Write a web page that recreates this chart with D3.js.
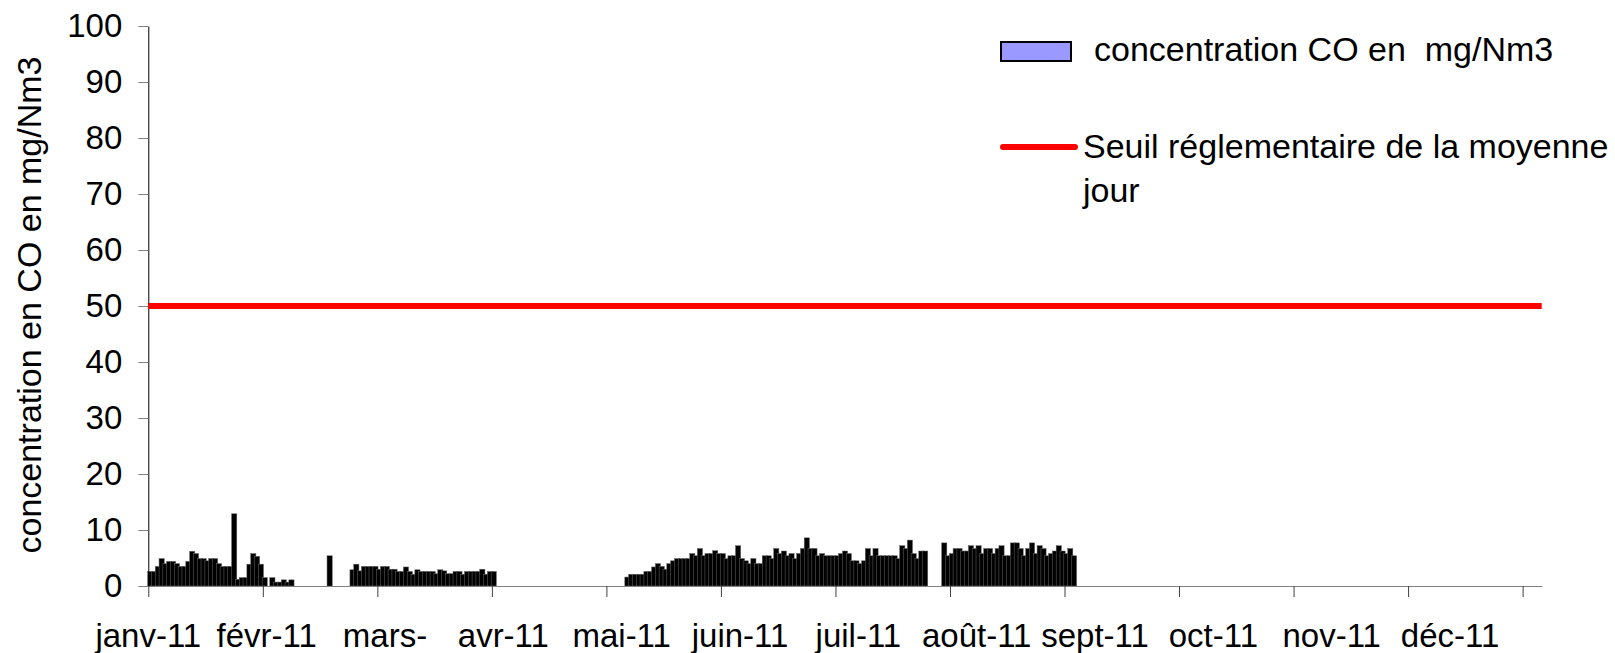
<!DOCTYPE html>
<html><head><meta charset="utf-8">
<script src="https://cdn.jsdelivr.net/npm/d3@7"></script>
<style>
html,body{margin:0;padding:0;background:#fff;}
svg{display:block;font-family:"Liberation Sans",Arial,sans-serif;}
</style></head><body>
<svg id="chart" width="1615" height="653"></svg>
<script>
// ---- data ----
const yearStart = "2011-01-01";
const yearEnd = "2012-01-01";
const seriesName = "concentration CO en  mg/Nm3";
const thresholdLabel = ["Seuil réglementaire de la moyenne", "jour"];
const thresholdValue = 50;
const yTicks = [0, 10, 20, 30, 40, 50, 60, 70, 80, 90, 100];
const monthLabels = ["janv-11", "févr-11", "mars-", "avr-11", "mai-11", "juin-11",
                     "juil-11", "août-11", "sept-11", "oct-11", "nov-11", "déc-11"];
const tickEveryDays = 30;
const labelEveryDays = 31;

// daily values, in runs of consecutive days
const janStart = "2011-01-01";
const janValues = [2.6, 2.6, 3.5, 4.9, 4.0, 4.4, 4.4, 4.0, 3.5, 3.5, 4.4, 6.2, 5.8, 4.9, 4.9, 4.5,
                   4.9, 4.9, 4.0, 3.5, 3.5, 3.5, 12.9, 1.2, 1.5, 1.5, 3.9, 5.8, 5.3, 3.9, 1.5];
const febStart = "2011-02-02";
const febValues = [1.5, 0.7, 0.7, 1.1, 0.7, 1.1];
const febLateStart = "2011-02-17";
const febLateValues = [5.4];
const marStart = "2011-02-23";
const marValues = [2.9, 3.9, 2.7, 3.5, 3.5, 3.5, 3.5, 3.0, 3.5, 3.5, 3.0, 3.0, 2.6, 2.6, 3.4, 2.6,
                   2.1, 2.9, 2.6, 2.6, 2.6, 2.6, 2.2, 2.9, 2.7, 2.2, 2.2, 2.6, 2.6, 2.1, 2.6, 2.6,
                   2.6, 2.6, 3.0, 2.1, 2.6, 2.6];
const mayStart = "2011-05-06";
const mayValues = [1.6, 2.1, 2.1, 2.1, 2.1, 2.6, 2.6, 3.4, 4.0, 3.5, 3.0, 4.0, 4.5, 4.9, 4.9, 4.9,
                   4.9, 5.8, 5.4, 6.7, 5.4, 5.8, 5.8, 6.3, 5.8, 5.8, 4.9, 5.4, 5.4, 7.2, 4.9, 4.5,
                   4.0, 4.9, 4.0, 4.0, 5.4, 5.4, 4.9, 6.7, 5.8, 6.25, 5.4, 5.8, 4.9, 5.8, 6.7, 8.6,
                   6.7, 6.7, 5.4, 5.8, 5.4, 5.4, 5.4, 5.4, 5.8, 6.25, 5.8, 4.5, 4.5, 4.0, 4.5, 6.7,
                   5.4, 6.7, 5.4, 5.4, 5.4, 5.4, 5.4, 4.9, 7.2, 6.7, 8.2, 5.8, 4.9, 6.25, 6.25];
const augStart = "2011-07-28";
const augValues = [7.7, 5.4, 5.8, 6.7, 6.7, 6.25, 6.25, 7.2, 6.7, 7.2, 5.8, 6.7, 6.7, 5.8, 6.7, 7.2,
                   5.4, 5.4, 7.7, 7.7, 6.7, 5.4, 6.7, 7.7, 5.8, 7.2, 6.7, 5.4, 5.8, 6.25, 7.2, 6.25,
                   5.8, 6.7, 5.4];

// ---- build ----
const parse = d3.utcParse("%Y-%m-%d");
const t0 = parse(yearStart), t1 = parse(yearEnd);
const nDays = d3.utcDay.count(t0, t1);
const runs = [[janStart, janValues], [febStart, febValues], [febLateStart, febLateValues],
              [marStart, marValues], [mayStart, mayValues], [augStart, augValues]];
const data = [];
runs.forEach(([s, vals]) => {
  const base = d3.utcDay.count(t0, parse(s));
  vals.forEach((v, i) => { if (v != null) data.push({day: base + i, value: v}); });
});

const svg = d3.select("#chart");
const x = d3.scaleLinear().domain([0, nDays]).range([148.3, 1541.7]);
const y = d3.scaleLinear().domain([0, 100]).range([586, 26]);
const step = x(1) - x(0);

// bars
svg.append("g").selectAll("rect").data(data).join("rect")
  .attr("x", d => x(d.day) - 0.7)
  .attr("width", step + 1.4)
  .attr("y", d => y(d.value))
  .attr("height", d => y(0) - y(d.value))
  .attr("fill", "#000")
  .attr("stroke", "#6a6a6a")
  .attr("stroke-width", 0.5);

// x axis: ticks every 30 days
const xAxis = svg.append("g").attr("transform", `translate(0,${y(0)})`)
  .call(d3.axisBottom(x).tickValues(d3.range(0, nDays, tickEveryDays)).tickFormat("")
        .tickSize(11).tickSizeOuter(0));
xAxis.select(".domain").attr("stroke", "#808080");
xAxis.selectAll(".tick line").attr("stroke", "#404040");

// x labels every 31 days
svg.append("g").selectAll("text").data(monthLabels).join("text")
  .attr("x", (d, i) => x(i * labelEveryDays))
  .attr("y", 647)
  .attr("text-anchor", "middle")
  .attr("font-size", 33)
  .attr("fill", "#000")
  .text(d => d);

// y axis
const yAxis = svg.append("g").attr("transform", `translate(${x(0)},0)`)
  .call(d3.axisLeft(y).tickValues(yTicks).tickSize(10).tickPadding(16).tickSizeOuter(0));
yAxis.select(".domain").attr("stroke", "#000");
yAxis.selectAll(".tick line").attr("stroke", "#808080");
yAxis.selectAll(".tick text").attr("font-size", 33).attr("fill", "#000")
  .attr("font-family", "Liberation Sans, Arial, sans-serif");

// threshold line
svg.append("line")
  .attr("x1", x(0)).attr("x2", x(nDays))
  .attr("y1", y(thresholdValue)).attr("y2", y(thresholdValue))
  .attr("stroke", "#ff0000").attr("stroke-width", 6);

// y title
svg.append("text")
  .attr("transform", `translate(41,305) rotate(-90)`)
  .attr("text-anchor", "middle")
  .attr("font-size", 34)
  .text("concentration en CO en mg/Nm3");

// legend
const lg = svg.append("g");
lg.append("rect").attr("x", 1001).attr("y", 42).attr("width", 70).attr("height", 19)
  .attr("fill", "#9999ff").attr("stroke", "#000").attr("stroke-width", 2);
lg.append("text").attr("x", 1094).attr("y", 61).attr("font-size", 34)
  .style("white-space", "pre").text(seriesName);
lg.append("line").attr("x1", 1003).attr("x2", 1075).attr("y1", 147).attr("y2", 147)
  .attr("stroke", "#ff0000").attr("stroke-width", 6).attr("stroke-linecap", "round");
lg.append("text").attr("x", 1083).attr("y", 158).attr("font-size", 34).text(thresholdLabel[0]);
lg.append("text").attr("x", 1083).attr("y", 202).attr("font-size", 34).text(thresholdLabel[1]);
</script>
</body></html>
